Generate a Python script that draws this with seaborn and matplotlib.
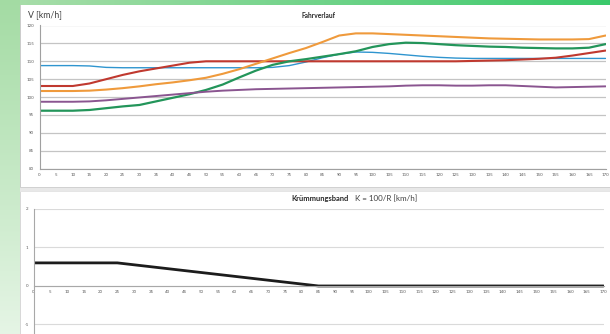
import numpy as np
import pandas as pd
import matplotlib
matplotlib.use("Agg")
import matplotlib.pyplot as plt
import seaborn as sns

# Station along the route [m], one reading every 5 m
km = [0, 5, 10, 15, 20, 25, 30, 35, 40, 45, 50, 55, 60, 65, 70, 75, 80, 85,
      90, 95, 100, 105, 110, 115, 120, 125, 130, 135, 140, 145, 150, 155, 160,
      165, 170]

# Speed profiles of the individual runs [km/h]
v_blau = [108.8, 108.8, 108.8, 108.7, 108.3, 108.2, 108.2, 108.2, 108.2, 108.2,
          108.2, 108.2, 108.2, 108.2, 108.3, 108.8, 109.8, 111.0, 112.0, 112.6,
          112.5, 112.2, 111.8, 111.4, 111.1, 110.9, 110.8, 110.8, 110.8, 110.8,
          110.8, 110.8, 110.8, 110.8, 110.8]
v_rot = [103.1, 103.1, 103.1, 103.8, 105.0, 106.2, 107.2, 108.0, 108.8, 109.6,
         110.0, 110.0, 110.0, 110.0, 110.0, 110.0, 110.0, 110.0, 110.0, 110.0,
         110.0, 110.0, 110.0, 110.0, 110.0, 110.0, 110.1, 110.2, 110.3, 110.5,
         110.7, 111.0, 111.6, 112.3, 113.0]
v_orange = [101.7, 101.7, 101.7, 101.8, 102.1, 102.5, 103.0, 103.6, 104.1, 104.7,
            105.4, 106.5, 107.8, 109.3, 110.8, 112.3, 113.7, 115.4, 117.2, 117.8,
            117.8, 117.6, 117.4, 117.2, 117.0, 116.8, 116.6, 116.4, 116.3, 116.2,
            116.1, 116.1, 116.1, 116.2, 117.2]
v_gruen = [96.2, 96.2, 96.2, 96.4, 96.9, 97.4, 97.8, 98.8, 99.8, 100.8,
           102.0, 103.5, 105.5, 107.4, 109.0, 110.0, 110.6, 111.3, 112.0, 112.8,
           114.0, 114.8, 115.2, 115.1, 114.8, 114.5, 114.3, 114.1, 114.0, 113.8,
           113.7, 113.6, 113.6, 113.8, 114.8]
v_lila = [98.7, 98.7, 98.7, 98.8, 99.1, 99.5, 99.9, 100.3, 100.7, 101.1,
          101.5, 101.8, 102.0, 102.2, 102.3, 102.4, 102.5, 102.6, 102.7, 102.8,
          102.9, 103.0, 103.2, 103.3, 103.3, 103.2, 103.2, 103.3, 103.3, 103.1,
          102.9, 102.7, 102.8, 102.9, 103.0]

# Curvature band K = 100/R
kruemmung = [0.6, 0.6, 0.6, 0.6, 0.6, 0.6, 0.55, 0.5, 0.45, 0.4, 0.35, 0.3,
             0.25, 0.2, 0.15, 0.1, 0.05, 0.0, 0.0, 0.0, 0.0, 0.0, 0.0, 0.0,
             0.0, 0.0, 0.0, 0.0, 0.0, 0.0, 0.0, 0.0, 0.0, 0.0, 0.0]

x_ticks = list(range(0, 171, 5))
y_ticks_v = [80, 85, 90, 95, 100, 105, 110, 115, 120]
y_ticks_k = [-1, 0, 1, 2]

runs = {"Fahrt 1": v_blau, "Fahrt 2": v_rot, "Fahrt 3": v_orange,
        "Fahrt 4": v_gruen, "Fahrt 5": v_lila}
colors = {"Fahrt 1": "#2f95cf", "Fahrt 2": "#c0392f", "Fahrt 3": "#ef9a3c",
          "Fahrt 4": "#23955a", "Fahrt 5": "#8a5590"}
widths = {"Fahrt 1": 1.0, "Fahrt 2": 1.5, "Fahrt 3": 1.5,
          "Fahrt 4": 1.6, "Fahrt 5": 1.4}

df = pd.DataFrame([(name, s, v) for name, vals in runs.items()
                   for s, v in zip(km, vals)], columns=["run", "km", "v"])
dk = pd.DataFrame({"km": km, "K": kruemmung})

sns.set_theme(style="white")
plt.rcParams["font.family"] = ["Lato", "DejaVu Sans"]

W, H = 610, 334
fig = plt.figure(figsize=(W / 100, H / 100), dpi=100)

# Backdrop: green frame with two white panels
bg = np.ones((H, W, 3))
xs = np.linspace(0, 1, W)[:, None]
c_l = np.array([0.67, 0.87, 0.67])
c_r = np.array([0.23, 0.79, 0.42])
bg[:5, :, :] = (c_l * (1 - xs) + c_r * xs)[None, :, :]
ys = np.linspace(0, 1, H)[:, None]
c_t = np.array([0.64, 0.86, 0.64])
c_b = np.array([0.90, 0.96, 0.90])
bg[:, :20, :] = (c_t * (1 - ys) + c_b * ys)[:, None, :]
bg[187:191, 20:, :] = 0.91
bg[5:187, 20, :] = 0.80
bg[187, 20:, :] = 0.82
bg[191:, 20, :] = 0.85
bg[191, 20:, :] = 0.90
fig.figimage(bg, origin="upper", zorder=-5)

tick_col = "#595959"

# Speed profile
ax1 = fig.add_axes([39.5 / W, 1 - 168.7 / H, 566.1 / W, 143.2 / H])
ax1.set_facecolor("none")
for name in runs:
    sns.lineplot(data=df[df["run"] == name], x="km", y="v", ax=ax1,
                 color=colors[name], lw=widths[name], legend=False)
ax1.set_xlim(0, 170)
ax1.set_ylim(80, 120)
ax1.set_xticks(x_ticks)
ax1.set_yticks(y_ticks_v)
ax1.set_xticklabels([str(t) for t in x_ticks])
ax1.set_yticklabels([str(t) for t in y_ticks_v])
ax1.grid(axis="y", color="#c4c4c4", lw=0.9)
ax1.set_axisbelow(True)
ax1.set_xlabel("")
ax1.set_ylabel("")
for s in ["top", "right"]:
    ax1.spines[s].set_visible(False)
for s in ["left", "bottom"]:
    ax1.spines[s].set_color("#a0a0a0")
    ax1.spines[s].set_linewidth(0.8)
ax1.tick_params(axis="both", labelsize=3.2, colors="#909090",
                labelcolor=tick_col, length=2, width=0.5, pad=2)
ax1.tick_params(axis="x", direction="inout", length=2.5)

# Curvature band
ax2 = fig.add_axes([33.5 / W, 1 - 333.7 / H, 570 / W, 124.7 / H])
ax2.set_facecolor("none")
sns.lineplot(data=dk, x="km", y="K", ax=ax2, color="#1c1c1c", lw=2.0,
             legend=False)
ax2.set_xlim(0, 170)
ax2.set_ylim(-1.24, 2)
ax2.set_xticks(x_ticks)
ax2.set_yticks(y_ticks_k)
ax2.set_xticklabels([str(t) for t in x_ticks])
ax2.set_yticklabels([str(t) for t in y_ticks_k])
ax2.grid(axis="y", color="#dadada", lw=0.8)
ax2.set_axisbelow(True)
ax2.set_xlabel("")
ax2.set_ylabel("")
for s in ["top", "right"]:
    ax2.spines[s].set_visible(False)
ax2.spines["bottom"].set_position(("data", 0))
for s in ["left", "bottom"]:
    ax2.spines[s].set_color("#a8a8a8")
    ax2.spines[s].set_linewidth(0.8)
ax2.tick_params(axis="both", labelsize=3.2, colors="#a0a0a0",
                labelcolor=tick_col, length=2, width=0.5, pad=1.5)
ax2.tick_params(axis="x", direction="inout", length=2.5)

# Titles
fig.text(28 / W, 1 - 15 / H, "V [km/h]", fontsize=6.3, color="#404040",
         ha="left", va="center")
fig.text(318 / W, 1 - 15 / H, "Fahrverlauf", fontsize=4.8, fontweight="bold",
         color="#262626", ha="center", va="center")
fig.text(349 / W, 1 - 198.5 / H, "Krümmungsband", fontsize=5.4,
         fontweight="bold", color="#262626", ha="right", va="center")
fig.text(355 / W, 1 - 198.5 / H, "K = 100/R [km/h]", fontsize=5.8,
         color="#404040", ha="left", va="center")

fig.savefig("out.png", dpi=100)
